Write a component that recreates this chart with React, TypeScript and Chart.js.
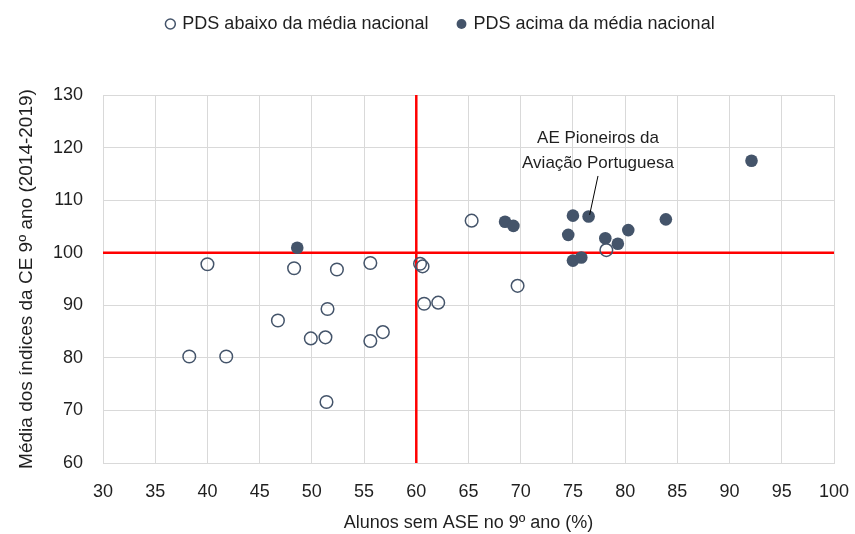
import React, { useEffect, useRef } from "react";
import { Chart, registerables } from "chart.js";

Chart.register(...registerables);

// ---- data ----
const belowX = [38.26, 41.8, 40.0, 48.3, 46.75, 49.9, 51.3, 51.5, 52.4, 51.4, 55.6, 55.6, 56.8, 60.36, 60.6, 60.75, 62.1, 65.3, 69.7, 78.2];
const belowY = [80.25, 80.25, 97.8, 97.05, 87.1, 83.7, 83.9, 89.3, 96.8, 71.6, 98.05, 83.2, 84.9, 97.9, 97.4, 90.3, 90.5, 106.1, 93.7, 100.5];
const aboveX = [48.6, 68.5, 69.3, 74.55, 75.0, 76.5, 75.0, 75.8, 78.1, 79.3, 80.3, 83.9, 92.1];
const aboveY = [100.95, 105.9, 105.1, 103.4, 107.05, 106.9, 98.5, 99.1, 102.75, 101.7, 104.3, 106.35, 117.5];
const seriesLabels = ["PDS abaixo da média nacional", "PDS acima da média nacional"];
const refX = 60; // vertical reference line
const refY = 100; // horizontal reference line
const xMin = 30, xMax = 100, xStep = 5;
const yMin = 60, yMax = 130, yStep = 10;
const xTitle = "Alunos sem ASE no 9º ano (%)";
const yTitle = "Média dos índices da CE 9º ano (2014-2019)";
const annotationLines = ["AE Pioneiros da", "Aviação Portuguesa"];
const annotationTextX = 77.4;
const annotationTextY = [121.8, 117.1];
const annotationArrowFrom = { x: 77.4, y: 114.6 };
const annotationArrowTo = { x: 76.6, y: 107.2 };

const FONT = "'Liberation Sans', Arial, sans-serif";
const SLATE = "#44546a";
const TEXT = "#1f1f1f";
const GRID = "#d9d9d9";

export default function App() {
  const ref = useRef<HTMLCanvasElement | null>(null);

  useEffect(() => {
    document.body.style.margin = "0";
    const canvas = ref.current;
    if (!canvas) return;

    const legendFix = {
      id: "legendFix",
      beforeLayout(chart: any) {
        const lg = chart.legend;
        if (lg && !lg._patched) {
          const orig = lg.fit.bind(lg);
          lg.fit = function () {
            orig();
            this.height = 95;
          };
          lg._patched = true;
        }
      },
      afterLayout(chart: any) {
        const lg = chart.legend;
        if (lg) {
          lg.top -= 15;
          lg.bottom -= 15;
          lg.left += 24;
          lg.right += 24;
        }
      },
    };

    const annotation = {
      id: "annotation",
      afterDatasetsDraw(chart: any) {
        const { ctx, scales } = chart;
        const xs = scales.x, ys = scales.y;
        ctx.save();
        ctx.fillStyle = TEXT;
        ctx.font = `17px ${FONT}`;
        ctx.textAlign = "center";
        ctx.textBaseline = "middle";
        annotationLines.forEach((t, i) => {
          ctx.fillText(t, xs.getPixelForValue(annotationTextX), ys.getPixelForValue(annotationTextY[i]));
        });
        ctx.strokeStyle = "#000";
        ctx.lineWidth = 1;
        ctx.beginPath();
        ctx.moveTo(xs.getPixelForValue(annotationArrowFrom.x), ys.getPixelForValue(annotationArrowFrom.y));
        ctx.lineTo(xs.getPixelForValue(annotationArrowTo.x), ys.getPixelForValue(annotationArrowTo.y));
        ctx.stroke();
        ctx.restore();
      },
    };

    const chart = new Chart(canvas, {
      type: "scatter",
      data: {
        datasets: [
          {
            label: seriesLabels[0],
            data: belowX.map((x, i) => ({ x, y: belowY[i] })),
            pointRadius: 6.3,
            pointBorderWidth: 1.5,
            borderColor: SLATE,
            backgroundColor: "rgba(255,255,255,0)",
            pointBackgroundColor: "rgba(255,255,255,0)",
            pointBorderColor: SLATE,
            order: 1,
          },
          {
            label: seriesLabels[1],
            data: aboveX.map((x, i) => ({ x, y: aboveY[i] })),
            pointRadius: 6.3,
            pointBorderWidth: 0,
            borderColor: SLATE,
            backgroundColor: SLATE,
            pointBackgroundColor: SLATE,
            pointBorderColor: SLATE,
            order: 2,
          },
          {
            label: "refV",
            data: [{ x: refX, y: yMin }, { x: refX, y: yMax }],
            showLine: true,
            borderColor: "#ff0000",
            borderWidth: 2.5,
            pointRadius: 0,
            order: 3,
          },
          {
            label: "refH",
            data: [{ x: xMin, y: refY }, { x: xMax, y: refY }],
            showLine: true,
            borderColor: "#ff0000",
            borderWidth: 2.5,
            pointRadius: 0,
            order: 3,
          },
        ],
      },
      options: {
        animation: false,
        responsive: false,
        maintainAspectRatio: false,
        layout: { padding: { top: 0, left: 0, right: 21, bottom: 0 } },
        plugins: {
          tooltip: { enabled: false },
          legend: {
            display: true,
            position: "top",
            labels: {
              filter: (item: any) => item.datasetIndex < 2,
              usePointStyle: true,
              pointStyle: "circle",
              boxWidth: 6,
              boxHeight: 7,
              padding: 30,
              color: TEXT,
              font: { family: FONT, size: 18 },
            },
          },
        },
        scales: {
          x: {
            type: "linear",
            min: xMin,
            max: xMax,
            ticks: { stepSize: xStep, padding: 3, color: TEXT, font: { family: FONT, size: 18 } },
            grid: { color: GRID, lineWidth: 1, drawTicks: true, tickLength: 15, tickColor: "rgba(0,0,0,0)" },
            border: { color: GRID },
            title: {
              display: true,
              text: xTitle,
              color: TEXT,
              font: { family: FONT, size: 18 },
              padding: { top: 0, bottom: 0 },
            },
            afterFit(s: any) {
              s.height = 71;
            },
          },
          y: {
            type: "linear",
            min: yMin,
            max: yMax,
            ticks: { stepSize: yStep, padding: 20, color: TEXT, font: { family: FONT, size: 18 } },
            grid: { color: GRID, lineWidth: 1, drawTicks: false },
            border: { color: GRID },
            title: {
              display: true,
              text: yTitle,
              color: TEXT,
              font: { family: FONT, size: 19 },
              padding: { top: 15, bottom: 0 },
            },
            afterFit(s: any) {
              s.width = 103;
            },
          },
        },
      } as any,
      plugins: [legendFix, annotation],
    });

    return () => chart.destroy();
  }, []);

  return (
    <div style={{ position: "relative", width: 855, height: 534 }}>
      <canvas ref={ref} width={855} height={534} style={{ display: "block", width: 855, height: 534 }} />
    </div>
  );
}
